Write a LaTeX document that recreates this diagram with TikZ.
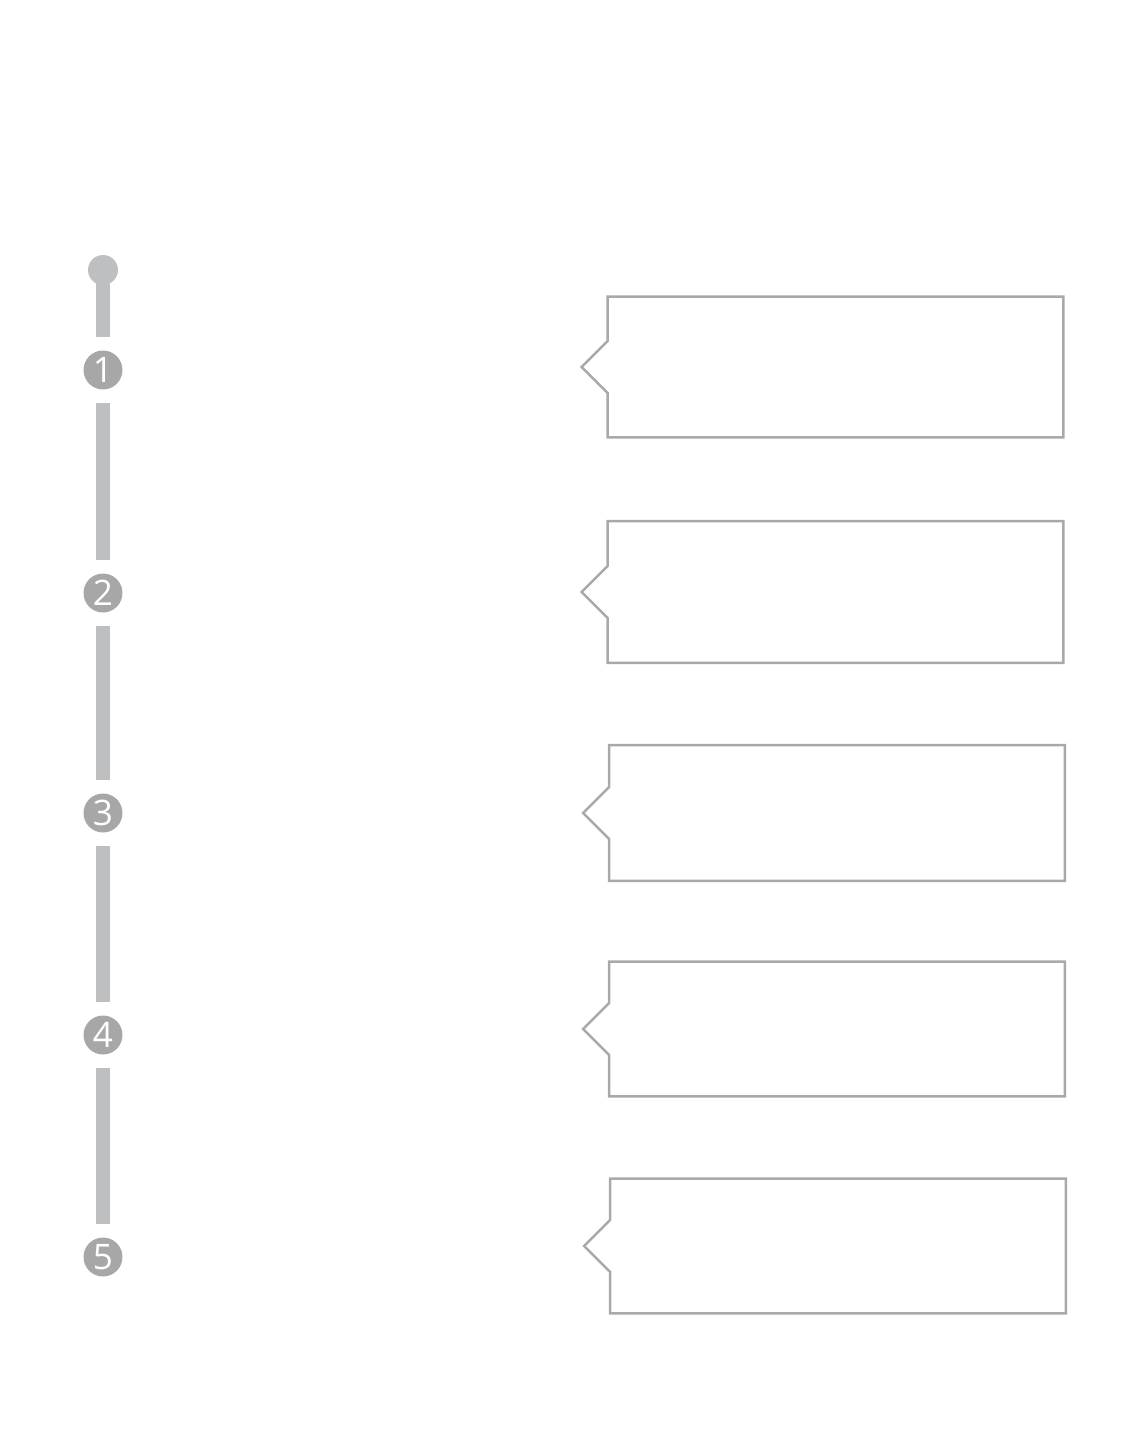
\documentclass[tikz,border=0pt]{standalone}
\usepackage{fontspec}
\setmainfont{Open Sans}
\usepackage{tikz}
\usetikzlibrary{positioning, calc}
\definecolor{bargray}{RGB}{190,191,193}
\definecolor{dotgray}{RGB}{167,167,167}
\definecolor{framegray}{RGB}{169,169,169}

\begin{document}
\begin{tikzpicture}[
    x=0.02cm, y=-0.02cm,   % one unit = one pixel of the layout
    stepdot/.style={circle, fill=dotgray, minimum size=0.78cm, inner sep=0pt,
                    text=white, font=\fontsize{20}{20}\selectfont},
    topdot/.style={circle, fill=bargray, minimum size=0.6cm, inner sep=0pt},
    bar/.style={line width=0.28cm, color=bargray},
    notebox/.style={rectangle, minimum width=9.1cm, inner sep=0pt},
    frame/.style={draw=framegray, line width=1.4pt, line join=miter}
]
\useasboundingbox (0,0) rectangle (1142,1433);

% timeline
\node[topdot] (start) at (103,270) {};
\node[stepdot] (n1) at (103,370) {1};
\node[stepdot] (n2) at (103,593) {2};
\node[stepdot] (n3) at (103,813) {3};
\node[stepdot] (n4) at (103,1035) {4};
\node[stepdot] (n5) at (103,1257) {5};

\draw[bar, shorten >=0.26cm] (start.center) -- (n1);
\draw[bar, shorten <=0.26cm, shorten >=0.26cm] (n1) -- (n2);
\draw[bar, shorten <=0.26cm, shorten >=0.26cm] (n2) -- (n3);
\draw[bar, shorten <=0.26cm, shorten >=0.26cm] (n3) -- (n4);
\draw[bar, shorten <=0.26cm, shorten >=0.26cm] (n4) -- (n5);

% callout boxes
\node[notebox, minimum height=2.8cm] (b1) at (835.5,367) {};
\node[notebox, minimum height=2.82cm] (b2) at (835.5,592) {};
\node[notebox, minimum height=2.7cm] (b3) at (837,813) {};
\node[notebox, minimum height=2.68cm] (b4) at (837,1029) {};
\node[notebox, minimum height=2.68cm] (b5) at (838,1246) {};

\draw[frame] ($(b1.west)+(0,-26)$) -- (b1.north west) -- (b1.north east) -- (b1.south east)
    -- (b1.south west) -- ($(b1.west)+(0,26)$) -- ($(b1.west)+(-26,0)$) -- cycle;
\draw[frame] ($(b2.west)+(0,-26)$) -- (b2.north west) -- (b2.north east) -- (b2.south east)
    -- (b2.south west) -- ($(b2.west)+(0,26)$) -- ($(b2.west)+(-26,0)$) -- cycle;
\draw[frame] ($(b3.west)+(0,-26)$) -- (b3.north west) -- (b3.north east) -- (b3.south east)
    -- (b3.south west) -- ($(b3.west)+(0,26)$) -- ($(b3.west)+(-26,0)$) -- cycle;
\draw[frame] ($(b4.west)+(0,-26)$) -- (b4.north west) -- (b4.north east) -- (b4.south east)
    -- (b4.south west) -- ($(b4.west)+(0,26)$) -- ($(b4.west)+(-26,0)$) -- cycle;
\draw[frame] ($(b5.west)+(0,-26)$) -- (b5.north west) -- (b5.north east) -- (b5.south east)
    -- (b5.south west) -- ($(b5.west)+(0,26)$) -- ($(b5.west)+(-26,0)$) -- cycle;

\end{tikzpicture}
\end{document}
